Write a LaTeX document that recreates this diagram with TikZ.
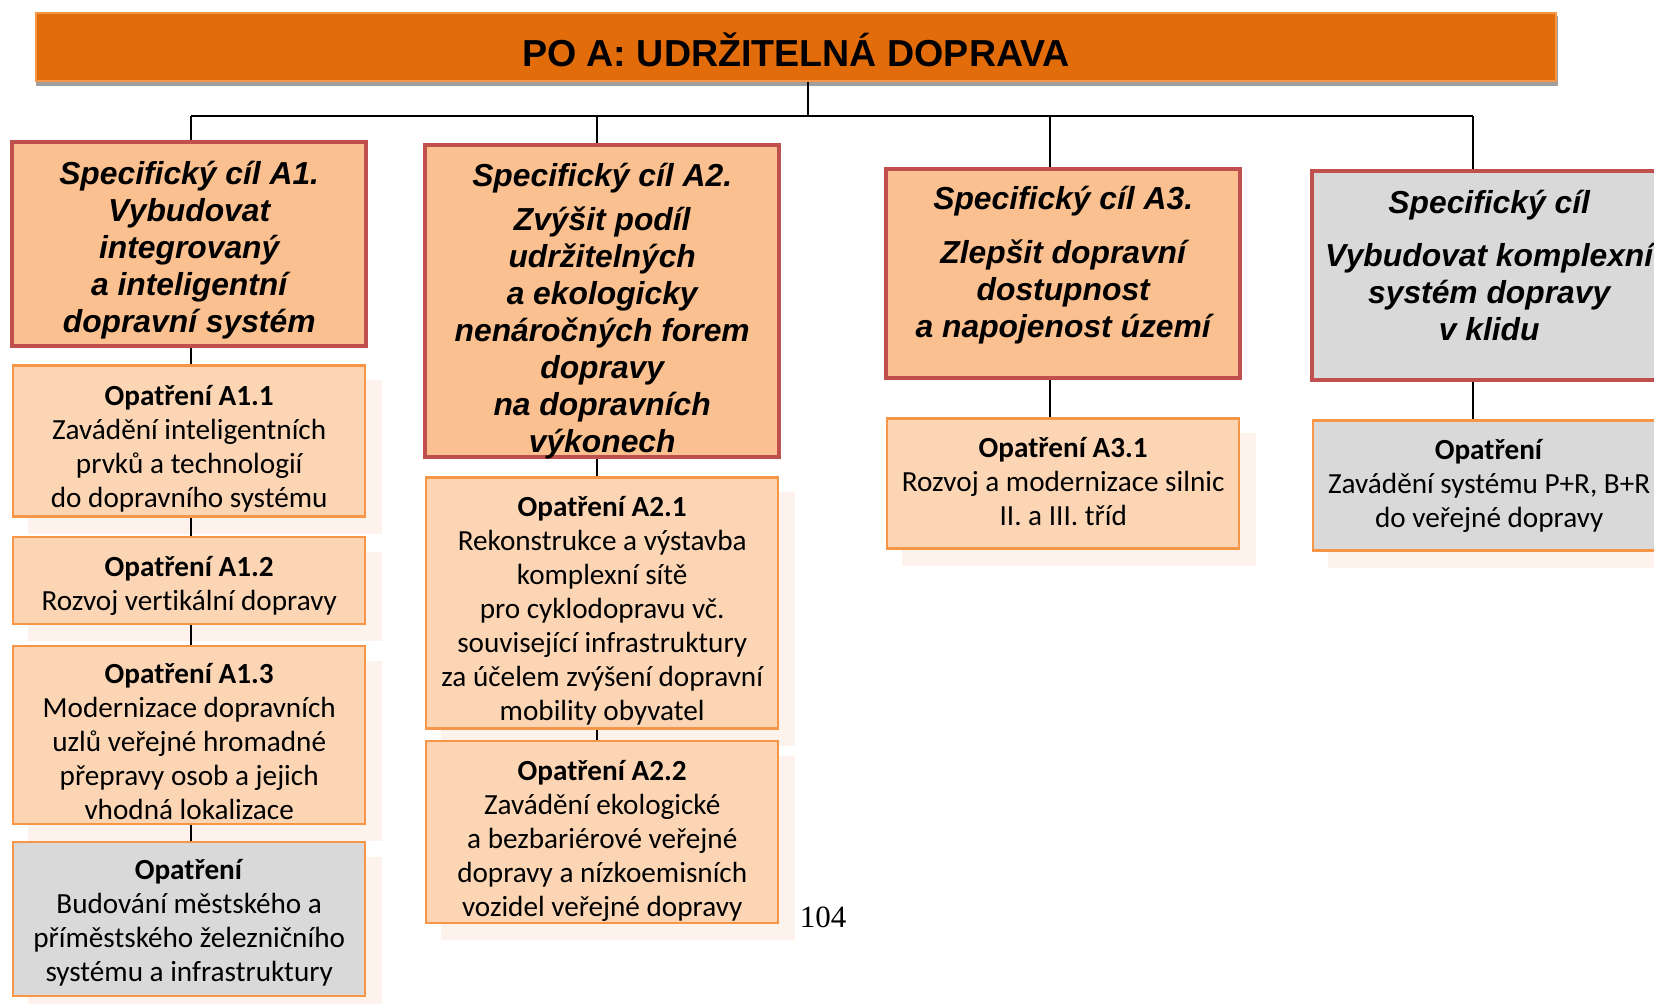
\documentclass[tikz,border=0pt]{standalone}
\usepackage{fontspec}
\setmainfont{Carlito}[Ligatures=NoCommon]
\newfontfamily\arialfont{Liberation Sans}
\newfontfamily\timesfont{Liberation Serif}
\usetikzlibrary{positioning,backgrounds}

\definecolor{titleorange}{HTML}{E36C0A}
\definecolor{titleedge}{HTML}{F79646}
\definecolor{goalfill}{HTML}{FAC090}
\definecolor{goaledge}{HTML}{C0504D}
\definecolor{measfill}{HTML}{FCD5B5}
\definecolor{measedge}{HTML}{F79646}
\definecolor{grayfill}{HTML}{D9D9D9}
\definecolor{ghost}{HTML}{FEF3EC}

\newcommand{\boxlines}[2]{\raisebox{#1}[\height][\depth]{\begin{tabular}{@{}c@{}}#2\end{tabular}}}

\tikzset{
  goal/.style={draw=goaledge, line width=2.2pt, fill=goalfill, minimum width=177pt,
    inner xsep=2pt, inner ysep=1pt, anchor=north west,
    font=\arialfont\bfseries\itshape\fontsize{15.9}{18.5}\selectfont},
  offgoal/.style={goal, fill=grayfill},
  measure/.style={draw=measedge, line width=1.2pt, fill=measfill, minimum width=176pt,
    inner xsep=2pt, inner ysep=1pt, font=\fontsize{14.6}{17}\selectfont},
  offmeasure/.style={measure, fill=grayfill},
  link/.style={line width=0.75pt},
}

\begin{document}
\begin{tikzpicture}[x=0.5pt, y=-0.5pt]
\useasboundingbox (0,0) rectangle (1654,1003);
\clip (0,0) rectangle (1654,1003);

\node[draw=titleedge, line width=1pt, fill=titleorange, minimum width=760pt, minimum height=34pt,
  anchor=north west, font=\arialfont\bfseries\fontsize{18.8}{22}\selectfont] (title) at (35,12)
  {\raisebox{-1.5pt}[\height][\depth]{PO A: UDRŽITELNÁ DOPRAVA}};

\node[goal, minimum height=102pt] (g1) at (10,140)
  {\boxlines{-3.2pt}{Specifický cíl A1.\\ Vybudovat\\ integrovaný\\ a inteligentní\\ dopravní systém}};
\node[measure, minimum height=75.5pt, below=8pt of g1] (m11)
  {\boxlines{-4.5pt}{\textbf{Opatření A1.1}\\ Zavádění inteligentních\\ prvků a technologií\\ do dopravního systému}};
\node[measure, minimum height=43.5pt, below=9pt of m11] (m12)
  {\boxlines{-2.9pt}{\textbf{Opatření A1.2}\\ Rozvoj vertikální dopravy}};
\node[measure, minimum height=89pt, below=9.8pt of m12] (m13)
  {\boxlines{-4.7pt}{\textbf{Opatření A1.3}\\ Modernizace dopravních\\ uzlů veřejné hromadné\\ přepravy osob a jejich\\ vhodná lokalizace}};
\node[offmeasure, minimum height=77pt, below=7.7pt of m13] (m14)
  {\boxlines{-2.4pt}{\textbf{Opatření}\\ Budování městského a\\ příměstského železničního\\ systému a infrastruktury}};

\node[goal, minimum height=156pt] (g2) at (423,143)
  {\boxlines{-5.5pt}{Specifický cíl A2.\\[3.5pt] Zvýšit podíl\\ udržitelných\\ a ekologicky\\ nenáročných forem\\ dopravy\\ na dopravních\\ výkonech}};
\node[measure, minimum height=125.5pt, below=8.5pt of g2] (m21)
  {\boxlines{-4.2pt}{\textbf{Opatření A2.1}\\ Rekonstrukce a výstavba\\ komplexní sítě\\ pro cyklodopravu vč.\\ související infrastruktury\\ za účelem zvýšení dopravní\\ mobility obyvatel}};
\node[measure, minimum height=91pt, below=5pt of m21] (m22)
  {\boxlines{-4.7pt}{\textbf{Opatření A2.2}\\ Zavádění ekologické\\ a bezbariérové veřejné\\ dopravy a nízkoemisních\\ vozidel veřejné dopravy}};

\node[goal, minimum height=104.5pt] (g3) at (884,167)
  {\boxlines{4pt}{Specifický cíl A3.\\[8.5pt] Zlepšit dopravní\\ dostupnost\\ a napojenost území}};
\node[measure, minimum height=65pt, below=18.5pt of g3] (m31)
  {\boxlines{-0.5pt}{\textbf{Opatření A3.1}\\ Rozvoj a modernizace silnic\\ II. a III. tříd}};

\node[offgoal, minimum height=104.5pt] (g4) at (1310,169)
  {\boxlines{3pt}{Specifický cíl\\[8pt] Vybudovat komplexní\\ systém dopravy\\ v klidu}};
\node[offmeasure, minimum height=65pt, below=18.5pt of g4] (m41)
  {\boxlines{-0.5pt}{\textbf{Opatření}\\ Zavádění systému P+R, B+R\\ do veřejné dopravy}};

\node[font=\timesfont\fontsize{15.5}{18}\selectfont] (page) at (823,917) {104};

\coordinate (hub) at (808,116);
\coordinate (b1) at (191,116);
\coordinate (b2) at (597,116);
\coordinate (b3) at (1050,116);
\coordinate (b4) at (1473,116);

\begin{scope}[on background layer]
\fill[gray!75] ([shift={(1,4)}]title.north west) rectangle ([shift={(1,4)}]title.south east);
\foreach \m in {m11,m12,m13,m14,m21,m22,m31,m41}
  \fill[ghost] ([shift={(16,16)}]\m.north west) rectangle ([shift={(16,16)}]\m.south east);
\draw[link] (hub |- title.south) -- (hub);
\draw[link] (b1) -- (b4);
\draw[link] (b1) -- (b1 |- g1.north);
\draw[link] (b2) -- (b2 |- g2.north);
\draw[link] (b3) -- (b3 |- g3.north);
\draw[link] (b4) -- (b4 |- g4.north);
\draw[link] (b1 |- g1.south) -- (b1 |- m14.north);
\draw[link] (b2 |- g2.south) -- (b2 |- m22.north);
\draw[link] (b3 |- g3.south) -- (b3 |- m31.north);
\draw[link] (b4 |- g4.south) -- (b4 |- m41.north);
\end{scope}
\end{tikzpicture}
\end{document}
